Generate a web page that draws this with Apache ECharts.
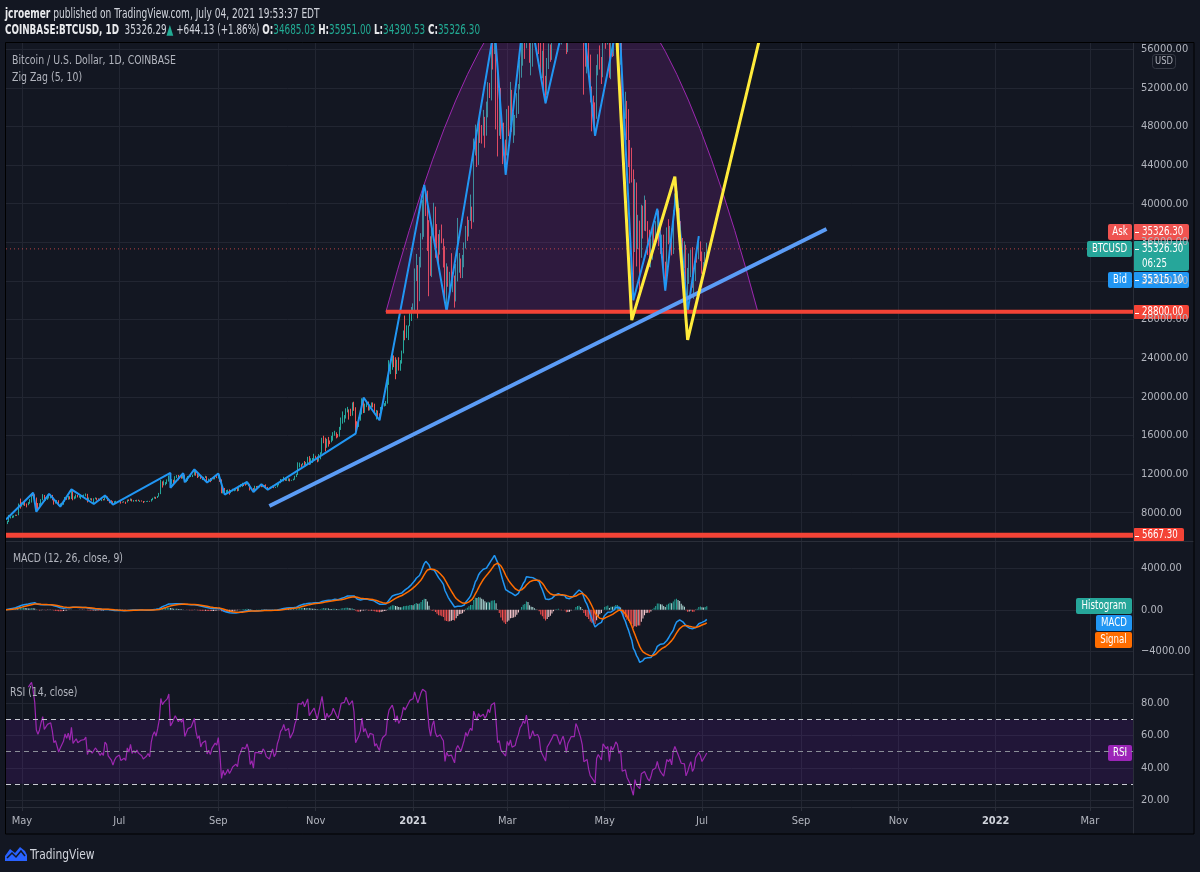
<!DOCTYPE html>
<html>
<head>
<meta charset="utf-8">
<title>BTCUSD 1D</title>
<script src="https://cdn.jsdelivr.net/npm/echarts@6.0.0/dist/echarts.min.js"></script>
<style>
  html, body { margin: 0; padding: 0; background: #131722; }
  #chart { width: 1200px; height: 872px; }
</style>
</head>
<body>
<div id="chart"></div>
<script>
// daily candles, 2020-04-21 .. 2021-07-04 (open = previous close)
const firstOpen = 6870;
const closes = [
  6840, 7130, 7490, 7500, 7540, 7700, 7780, 7760, 8780, 8620,
  8830, 8970, 8900, 8880, 9030, 9150, 9990, 9810, 9540, 8720, 8560, 8810, 9310, 9790, 9310, 9380, 9670, 9730, 9780, 9510, 9060, 9170, 9180, 8720, 8900, 8840, 9200, 9580, 9420, 9700, 9450,
  10200, 9520, 9660, 9790, 9620, 9670, 9750, 9780, 9780, 9890, 9270, 9470, 9470, 9340, 9430, 9520, 9460, 9380, 9290, 9360, 9290, 9680, 9620, 9290, 9250, 9160, 9000, 9120, 9190, 9140,
  9230, 9090, 9060, 9130, 9080, 9340, 9250, 9430, 9230, 9290, 9240, 9300, 9240, 9250, 9190, 9130, 9150, 9170, 9210, 9160, 9390, 9530, 9600, 9540, 9700, 9930, 11030, 10920, 11100, 11120, 11350,
  11810, 11070, 11230, 11190, 11740, 11770, 11600, 11760, 11680, 11890, 11390, 11580, 11780, 11770, 11860, 11910, 12290, 11960, 11750, 11870, 11520, 11670, 11650, 11760, 11340, 11470, 11320, 11530, 11480, 11710, 11650,
  11920, 11400, 10170, 10470, 10160, 10250, 10370, 10130, 10230, 10350, 10390, 10440, 10330, 10680, 10790, 10960, 10940, 10930, 11080, 10920, 10420, 10530, 10240, 10740, 10690, 10730, 10770, 10700, 10840, 10780,
  10620, 10570, 10550, 10670, 10790, 10600, 10670, 10920, 11060, 11300, 11380, 11550, 11430, 11430, 11500, 11320, 11370, 11500, 11750, 11920, 12820, 12980, 12930, 13130, 13030, 13070, 13650, 13280, 13460, 13560, 13800,
  13760, 13550, 14030, 14150, 15590, 15580, 14840, 15480, 15330, 15300, 15700, 16290, 16330, 16070, 15960, 16720, 17660, 17780, 17820, 18660, 18700, 18420, 18370, 19160, 18740, 17150, 17140, 17720, 18180, 19700,
  18790, 19220, 19450, 18650, 19150, 19370, 19170, 18320, 18550, 18250, 18040, 18800, 19170, 19270, 19440, 21380, 22840, 23120, 23850, 23480, 22740, 23820, 23250, 23730, 24710, 26490, 26280, 27080, 27380, 28880, 28990,
  29390, 32200, 33000, 31990, 33990, 36820, 39470, 40670, 40240, 38240, 35540, 34010, 37390, 39150, 36830, 36020, 35820, 36630, 36020, 35540, 30830, 33010, 32090, 32280, 32260, 32510, 30430, 33410, 34270, 34320, 33110,
  33520, 35510, 37670, 36960, 38290, 39260, 38880, 46450, 46480, 44830, 48010, 47440, 47300, 48690, 48000, 49160, 52150, 51600, 55920, 55890, 57410, 54090, 48890, 49680, 47060, 46290, 46120, 45140,
  49590, 48440, 50350, 48370, 48750, 48880, 50970, 52390, 54880, 55850, 57770, 57230, 61190, 59010, 55630, 56900, 58910, 57650, 58030, 58100, 57350, 54080, 54340, 52300, 51320, 55050, 55840, 55780, 57630, 58760, 58800,
  58730, 58970, 57060, 58210, 59130, 57990, 55950, 58090, 58090, 59770, 59980, 59860, 63580, 62960, 63160, 61330, 60010, 56150, 55660, 56470, 53800, 51700, 51150, 50110, 49070, 54020, 55030, 54840, 53570, 57750,
  57830, 56630, 57200, 53240, 57480, 56430, 57380, 58930, 58280, 55860, 56750, 49500, 49690, 49910, 46760, 46450, 43540, 42880, 36730, 40600, 37280, 37530, 34700, 38800, 38350, 39240, 38440, 35660, 34610, 35680, 37330,
  36690, 37580, 39190, 36870, 35520, 35800, 33580, 33400, 37390, 36690, 37340, 35550, 39020, 40530, 40160, 38350, 38090, 35820, 35480, 35600, 31680, 32510, 33690, 34680, 31590, 32280, 34700, 34500, 35900, 35040,
  33540, 33800, 34685.03, 35326.30
];
const highs = [
  6950, 7160, 7770, 7620, 7700, 7720, 7800, 7790, 8950, 9460,
  9070, 9020, 9190, 8950, 9100, 9400, 9990, 10070, 9910, 9570, 9000, 8980, 9400, 9920, 9840, 9580, 9870, 9950, 9890, 9840, 9560, 9270, 9310, 9290, 8970, 9020, 9230, 9620, 9610, 9740, 9700,
  10420, 10230, 9690, 9880, 9850, 9730, 9800, 9800, 9880, 9990, 9950, 9570, 9500, 9490, 9490, 9580, 9540, 9480, 9400, 9400, 9420, 9780, 9690, 9670, 9330, 9290, 9190, 9190, 9230, 9200,
  9310, 9260, 9130, 9190, 9140, 9360, 9370, 9470, 9440, 9310, 9300, 9340, 9350, 9270, 9270, 9210, 9190, 9200, 9230, 9220, 9420, 9540, 9660, 9640, 9730, 10050, 11400, 11240, 11340, 11170, 11450,
  11860, 12120, 11480, 11410, 11780, 11900, 11910, 11800, 11800, 12090, 11940, 11630, 11800, 11850, 12000, 11930, 12480, 12400, 12020, 11890, 11880, 11690, 11710, 11820, 11770, 11530, 11590, 11550, 11570, 11720, 11780,
  12060, 11940, 11450, 10590, 10560, 10340, 10390, 10410, 10350, 10480, 10410, 10480, 10590, 10790, 10950, 11100, 11050, 11040, 11180, 11080, 10990, 10570, 10550, 10790, 10760, 10780, 10800, 10950, 10860, 10850,
  10930, 10670, 10600, 10690, 10800, 10800, 10680, 10950, 11100, 11490, 11430, 11720, 11560, 11550, 11560, 11540, 11400, 11520, 11820, 12030, 13220, 13190, 13020, 13160, 13350, 13250, 13790, 13860, 13640, 13660, 14100,
  13900, 13820, 14070, 14250, 15760, 15970, 15770, 15650, 15850, 15480, 15960, 16340, 16480, 16330, 16140, 16890, 17860, 18490, 18110, 18810, 18960, 18700, 18770, 19420, 19490, 18920, 17470, 17880, 18330, 19850,
  19920, 19300, 19580, 19510, 19180, 19420, 19420, 19290, 18640, 18580, 18290, 18950, 19410, 19350, 19570, 21560, 23800, 23290, 24300, 24290, 24100, 23850, 24100, 23800, 24790, 26870, 28420, 27410, 27390, 28990, 29300,
  29680, 33300, 34800, 33650, 34500, 36950, 40380, 41950, 41400, 41350, 38300, 36630, 37800, 40100, 39700, 37900, 36850, 37300, 37850, 36400, 35600, 33830, 33500, 32950, 34880, 32930, 32560, 33760, 38530, 34890, 34330,
  34700, 35990, 37700, 38680, 38320, 40950, 39700, 46750, 48200, 47340, 48650, 48900, 48150, 49720, 49000, 50580, 52600, 52520, 56330, 57500, 58350, 57500, 54200, 51380, 52000, 48330, 48400, 46650,
  49800, 50150, 52620, 51800, 49450, 49200, 51450, 52400, 54900, 57400, 58100, 58000, 61780, 61700, 60600, 56950, 58980, 60100, 59450, 59900, 58600, 58430, 55850, 57200, 53250, 55100, 56600, 56500, 58400, 59400, 59800,
  59500, 60000, 59800, 58500, 59250, 59500, 58650, 58200, 58900, 61220, 60700, 61200, 63750, 64850, 63800, 63550, 62500, 60400, 57600, 57100, 56800, 55450, 52150, 51200, 50500, 54360, 55480, 56400, 55200, 57950,
  58450, 57950, 58950, 57200, 57900, 58360, 58650, 59500, 59300, 59600, 56900, 58000, 51350, 51600, 50650, 49800, 46600, 45800, 43550, 42550, 42200, 38850, 38250, 39900, 39800, 40850, 40400, 38200, 37300, 36400, 37500,
  37900, 38200, 39480, 39300, 37900, 36800, 36800, 34000, 37550, 38400, 37700, 37450, 39350, 41070, 41330, 40500, 39550, 38200, 36450, 36100, 35750, 33350, 34850, 35250, 35500, 32700, 34750, 35300, 36650, 36100,
  35050, 33950, 35000, 35951.00
];
const lows = [
  6760, 6820, 7030, 7400, 7440, 7490, 7660, 7670, 7730, 8420,
  8620, 8760, 8700, 8550, 8770, 8920, 9050, 9720, 9460, 8100, 8200, 8550, 8790, 9280, 9140, 9230, 9330, 9470, 9480, 9280, 8830, 8940, 9070, 8720, 8630, 8700, 8820, 9110, 9330, 9340, 9380,
  9420, 9280, 9390, 9470, 9580, 9550, 9400, 9640, 9570, 9700, 9060, 9240, 9330, 9250, 8900, 9390, 9270, 9280, 9230, 9200, 9270, 9280, 9580, 9220, 8980, 9030, 8830, 8940, 9050, 9080,
  9090, 8940, 9040, 9050, 8910, 9060, 9200, 9230, 9160, 9130, 9180, 9150, 9200, 9110, 9150, 9000, 9090, 9120, 9120, 9130, 9150, 9290, 9460, 9420, 9520, 9660, 9920, 10600, 10830, 10840, 10980,
  11220, 10580, 10930, 11000, 11080, 11580, 11350, 11520, 11520, 11530, 11150, 11160, 11290, 11690, 11690, 11690, 11850, 11830, 11590, 11680, 11500, 11380, 11530, 11590, 11120, 11260, 11160, 11280, 11450, 11450, 11580,
  11540, 11190, 10010, 9990, 9880, 10040, 9950, 9860, 10020, 10220, 10220, 10280, 10210, 10250, 10630, 10670, 10760, 10800, 10890, 10790, 10300, 10350, 10140, 10200, 10570, 10650, 10630, 10640, 10650, 10690,
  10470, 10380, 10500, 10540, 10640, 10540, 10560, 10630, 10830, 11050, 11280, 11240, 11300, 11290, 11270, 11240, 11300, 11340, 11410, 11690, 11900, 12690, 12740, 12890, 12900, 12800, 13060, 12950, 12990, 13150, 13430,
  13610, 13220, 13300, 13530, 14100, 15190, 14350, 14720, 14840, 15100, 15290, 15450, 15970, 15700, 15790, 15880, 16570, 17220, 17350, 17750, 18390, 17640, 18000, 18050, 18550, 16190, 16450, 16880, 17530, 18170,
  18320, 18340, 18930, 18570, 18600, 18930, 18900, 18200, 17650, 17920, 17570, 18020, 18710, 19000, 19060, 19300, 21240, 22350, 22800, 23070, 21820, 22360, 22720, 22700, 23440, 24500, 25860, 26100, 25880, 27320, 27850,
  28690, 28950, 32000, 28130, 29900, 33400, 36300, 36570, 38720, 35110, 30420, 32530, 32400, 36700, 34400, 35360, 33850, 34730, 35900, 33400, 30070, 28850, 31400, 30900, 31950, 30840, 29240, 29880, 31950, 32860, 32300,
  32300, 33420, 35370, 36150, 36600, 38220, 37400, 38080, 45000, 43800, 44020, 46300, 46230, 47050, 45800, 47050, 48950, 50950, 50700, 53900, 55500, 47700, 44900, 47040, 46700, 44100, 45000, 43000,
  45000, 47000, 48100, 47450, 46300, 47070, 48880, 49300, 51850, 53060, 54300, 55000, 56100, 58950, 54600, 53300, 54200, 57000, 56300, 57850, 55500, 53700, 53000, 51700, 50400, 51280, 53950, 54700, 54900, 57000, 56900,
  57900, 58450, 56900, 56500, 56800, 57300, 55500, 55700, 57670, 57900, 59250, 59400, 59800, 61000, 62000, 60000, 59700, 51300, 54200, 53500, 53600, 50500, 47500, 48750, 47050, 48800, 53300, 53900, 52400, 53100,
  57050, 56050, 56500, 53050, 52900, 55200, 55300, 56900, 56250, 53500, 54400, 48600, 46000, 48800, 46600, 43800, 42100, 42200, 30000, 35000, 33500, 35300, 31100, 34400, 36400, 37200, 37150, 34700, 33450, 33400, 34200,
  35700, 35900, 37200, 35600, 34800, 35300, 33400, 31000, 32400, 35800, 35950, 34650, 34800, 38800, 39500, 38100, 37400, 35150, 34850, 33350, 31300, 28800, 31700, 32400, 31300, 30150, 32000, 33900, 34250, 34050,
  32750, 32700, 33400, 34390.53
];

const tickDates = ['2020-05-01', '2020-07-01', '2020-09-01', '2020-11-01', '2021-01-01', '2021-03-01',
                   '2021-05-01', '2021-07-01', '2021-09-01', '2021-11-01', '2022-01-01', '2022-03-01'];
const tickLabels = ['May', 'Jul', 'Sep', 'Nov', '2021', 'Mar', 'May', 'Jul', 'Sep', 'Nov', '2022', 'Mar'];

// Zig Zag (5, 10) pivots
const zigzag = [
  ['2020-04-21', 7300], ['2020-05-08', 10070], ['2020-05-10', 8100], ['2020-05-18', 9950],
  ['2020-05-25', 8630], ['2020-06-01', 10420], ['2020-06-15', 8900], ['2020-06-22', 9780],
  ['2020-06-27', 8830], ['2020-08-02', 12120], ['2020-08-02', 10580], ['2020-08-10', 12090],
  ['2020-08-11', 11150], ['2020-08-17', 12480], ['2020-08-25', 11120], ['2020-09-01', 12060],
  ['2020-09-05', 9880], ['2020-09-19', 11180], ['2020-09-23', 10140], ['2020-09-28', 10950],
  ['2020-10-02', 10380], ['2020-11-26', 16190], ['2020-12-01', 19920], ['2020-12-11', 17570],
  ['2021-01-08', 41950], ['2021-01-22', 28850], ['2021-02-21', 58350], ['2021-02-28', 43000],
  ['2021-03-13', 61780], ['2021-03-25', 50400], ['2021-04-14', 64850], ['2021-04-25', 47050],
  ['2021-05-10', 59600], ['2021-05-19', 30000], ['2021-06-03', 39480], ['2021-06-08', 31000],
  ['2021-06-15', 41330], ['2021-06-22', 28800], ['2021-06-29', 36650]
];
const yellowW = [['2021-05-07', 62350], ['2021-05-18', 27950], ['2021-06-14', 42800], ['2021-06-22', 25900], ['2021-08-08', 58400]];
const trendLine = [['2020-10-03', 8700], ['2021-09-17', 37380]];
const supportLine = [['2020-12-15', 28800], ['2022-03-28', 28800]];
const bottomLine = [['2020-04-21', 5667.30], ['2022-03-28', 5667.30]];
const arcPoints = [['2020-12-15', 28800], ['2021-04-11', 100800], ['2021-08-05', 28800]];
const lastPrice = 35326.30;
const bidPrice = 35315.10;

const FONT = '"Liberation Sans Narrow", "DejaVu Sans Condensed", sans-serif';
const GRID = '#222632';
const SEP = '#2a2e39';
const TEXT = '#b2b5be';
const UP = '#26a69a', DOWN = '#ef5350';

const dates = [];
for (let t = Date.UTC(2020, 3, 21); t <= Date.UTC(2022, 2, 28); t += 86400000) {
  dates.push(new Date(t).toISOString().slice(0, 10));
}
const tickSet = new Set(tickDates);
const onTick = (i, v) => tickSet.has(v);

const candles = closes.map((c, i) => [i ? closes[i - 1] : firstOpen, c, lows[i], highs[i]]);

// indicators from the closes
function ema(src, n) {
  const k = 2 / (n + 1);
  let prev;
  return src.map((v, i) => (prev = i ? prev + k * (v - prev) : v));
}
const ema12 = ema(closes, 12), ema26 = ema(closes, 26);
const macd = ema12.map((v, i) => v - ema26[i]);
const signal = ema(macd, 9);
const hist = macd.map((v, i) => v - signal[i]);

const rsi = ['-'];
let ag = 0, al = 0;
for (let i = 1; i < closes.length; i++) {
  const ch = closes[i] - closes[i - 1];
  const g = Math.max(ch, 0), l = Math.max(-ch, 0);
  if (i <= 14) { ag += g / 14; al += l / 14; }
  else { ag = (ag * 13 + g) / 14; al = (al * 13 + l) / 14; }
  rsi.push(i >= 14 ? (al === 0 ? 100 : 100 - 100 / (1 + ag / al)) : '-');
}

function histColor(i) {
  const h = hist[i], p = i ? hist[i - 1] : 0;
  if (h >= 0) return h > p ? '#26a69a' : '#b2dfdb';
  return h < p ? '#ff5252' : '#ffcdd2';
}

const fmt = v => (v < 0 ? '\u2212' + Math.abs(v).toFixed(2) : v.toFixed(2));

const chart = echarts.init(document.getElementById('chart'));

const hiddenX = i => ({ gridIndex: i, type: 'category', data: dates, boundaryGap: false, show: false });
const priceY = (i, min, max, interval) => ({
  gridIndex: i, type: 'value', position: 'right', min, max, interval,
  axisLine: { show: false }, axisTick: { show: false },
  axisLabel: { showMinLabel: false, showMaxLabel: false, formatter: fmt, color: TEXT, fontSize: 11, fontFamily: FONT, margin: 8 },
  splitLine: { show: true, showMinLine: false, showMaxLine: false, lineStyle: { color: GRID, width: 1 } }
});
const plainLine = (data, color, width, extra) => Object.assign({
  type: 'line', data, xAxisIndex: 0, yAxisIndex: 0, symbol: 'none', silent: true, z: 4,
  lineStyle: { color, width }
}, extra || {});

const option = {
  animation: false,
  backgroundColor: '#131722',
  grid: [
    { left: 6, right: 67, top: 43, height: 508.3 },
    { left: 6, right: 67, top: 541, height: 151.8 },
    { left: 6, right: 67, top: 674, height: 158.2 },
    { left: 6, right: 67, top: 43, height: 764 }
  ],
  xAxis: [
    hiddenX(0), hiddenX(1), hiddenX(2),
    {
      gridIndex: 3, type: 'category', data: dates, boundaryGap: false,
      axisLine: { lineStyle: { color: SEP } },
      axisTick: { interval: onTick, length: 4, lineStyle: { color: SEP } },
      axisLabel: {
        interval: onTick, margin: 9, color: TEXT, fontSize: 11, fontFamily: FONT,
        formatter: v => {
          const s = tickLabels[tickDates.indexOf(v)];
          return /^\d+$/.test(s) ? '{y|' + s + '}' : s;
        },
        rich: { y: { fontWeight: 'bold', color: '#d1d4dc', fontSize: 11, fontFamily: FONT } }
      },
      splitLine: { show: true, interval: onTick, lineStyle: { color: GRID } }
    }
  ],
  yAxis: [
    priceY(0, 4000, 56650, 4000),
    priceY(1, -8000, 6630, 4000),
    priceY(2, 0, 98.2, 20),
    { gridIndex: 3, type: 'value', show: false, min: 0, max: 1 }
  ],
  series: [
    {
      type: 'candlestick', data: candles, xAxisIndex: 0, yAxisIndex: 0, z: 1, silent: true,
      itemStyle: { color: UP, color0: DOWN, borderColor: UP, borderColor0: DOWN, borderWidth: 1 }
    },
    {
      type: 'custom', xAxisIndex: 0, yAxisIndex: 0, z: 2, silent: true,
      data: [arcPoints[0]],
      renderItem: (params, api) => {
        const p = arcPoints.map(d => api.coord([dates.indexOf(d[0]), d[1]]));
        const cs = params.coordSys;
        return {
          type: 'bezierCurve',
          shape: { x1: p[0][0], y1: p[0][1], cpx1: p[1][0], cpy1: p[1][1], x2: p[2][0], y2: p[2][1] },
          style: { fill: 'rgba(156,39,176,0.2)', stroke: '#9c27b0', lineWidth: 1 },
          clipPath: { type: 'rect', shape: { x: cs.x, y: cs.y, width: cs.width, height: 498 } }
        };
      }
    },
    plainLine(zigzag, '#2196f3', 2, { z: 3 }),
    plainLine(bottomLine, '#f44336', 5),
    plainLine(supportLine, '#f44336', 4),
    plainLine([[dates[0], lastPrice], [dates[dates.length - 1], lastPrice]], 'rgba(239,83,80,0.75)', 1,
      { lineStyle: { color: 'rgba(239,83,80,0.75)', width: 1, type: [1, 3] }, z: 3 }),
    plainLine(trendLine, '#5b9cf6', 4, { z: 5 }),
    plainLine(yellowW, '#ffeb3b', 3, { z: 6 }),
    {
      type: 'bar', data: hist, xAxisIndex: 1, yAxisIndex: 1, barWidth: 1, silent: true,
      itemStyle: { color: p => histColor(p.dataIndex) }
    },
    { type: 'line', data: macd, xAxisIndex: 1, yAxisIndex: 1, symbol: 'none', silent: true, lineStyle: { color: '#2196f3', width: 1.5 } },
    { type: 'line', data: signal, xAxisIndex: 1, yAxisIndex: 1, symbol: 'none', silent: true, lineStyle: { color: '#ff6d00', width: 1.5 } },
    {
      type: 'line', data: rsi, xAxisIndex: 2, yAxisIndex: 2, symbol: 'none', silent: true,
      lineStyle: { color: '#9c27b0', width: 1.2 },
      markArea: { silent: true, itemStyle: { color: 'rgba(153,21,255,0.1)' }, data: [[{ yAxis: 30 }, { yAxis: 70 }]] },
      markLine: {
        silent: true, symbol: 'none', label: { show: false },
        lineStyle: { type: [5, 4], color: '#c9cbd3', width: 1 },
        data: [{ yAxis: 70 }, { yAxis: 50, lineStyle: { color: '#8b8e98' } }, { yAxis: 30 }]
      }
    }
  ]
};
chart.setOption(option);

// overlays: header, pane titles, price tags
const yP = (axis, v) => chart.convertToPixel({ yAxisIndex: axis }, v);

function txt(x, y, text, size, color, sx, rich, align) {
  return {
    type: 'text', z: 100, silent: true, x, y, scaleX: sx || 1,
    style: {
      text, x: 0, y: 0, fill: color, font: `${size}px ${FONT}`, rich,
      align: align || 'left', textAlign: align || 'left',
      textVerticalAlign: 'middle', verticalAlign: 'middle'
    }
  };
}
function tag(x, yc, w, h, fill, text, opts) {
  opts = opts || {};
  const top = Math.round(yc - h / 2);
  const lines = Array.isArray(text) ? text : [text];
  const kids = [{ type: 'rect', shape: { x, y: top, width: w, height: h, r: 2 }, style: { fill } }];
  lines.forEach((t, k) => {
    kids.push(txt(opts.left ? x + opts.left : x + w / 2, top + h / (2 * lines.length) * (2 * k + 1),
      t, 12, '#fff', 0.8, undefined, opts.left ? 'left' : 'center'));
  });
  if (opts.dash) kids.push({ type: 'rect', shape: { x: x + 2, y: top + 8, width: 4, height: 1 }, style: { fill: '#fff' } });
  return { type: 'group', z: 100, silent: true, children: kids };
}

const lastY = yP(0, lastPrice);
const zeroY = yP(1, 0);
const lastRsi = rsi[rsi.length - 1];
const bold = { fontWeight: 'bold', fill: '#e8e9ec', fontSize: 14, fontFamily: FONT };
const teal = { fill: '#22ab94', fontSize: 14, fontFamily: FONT };

const graphics = [
  // cover above the price pane, frame and separators
  { type: 'rect', z: 80, silent: true, shape: { x: 0, y: 0, width: 1200, height: 42.5 }, style: { fill: '#131722' } },
  { type: 'line', z: 90, shape: { x1: 6, y1: 541.5, x2: 1194, y2: 541.5 }, style: { stroke: SEP, lineWidth: 1 } },
  { type: 'line', z: 90, shape: { x1: 6, y1: 674.5, x2: 1194, y2: 674.5 }, style: { stroke: SEP, lineWidth: 1 } },
  { type: 'line', z: 90, shape: { x1: 1133.5, y1: 43, x2: 1133.5, y2: 834 }, style: { stroke: SEP, lineWidth: 1 } },
  { type: 'rect', z: 95, shape: { x: 5.5, y: 42.5, width: 1188.5, height: 791.5 }, style: { fill: null, stroke: '#000', lineWidth: 1 } },

  txt(5, 14, '{b|jcroemer} published on TradingView.com, July 04, 2021 19:53:37 EDT', 14, '#d1d4dc', 0.718, { b: bold }),
  txt(5, 30, '{b|COINBASE:BTCUSD, 1D}  35326.29{g|\u25B2} +644.13 (+1.86%) {b|O:}{g|34685.03} {b|H:}{g|35951.00} {b|L:}{g|34390.53} {b|C:}{g|35326.30}',
    14, '#d1d4dc', 0.70, { b: bold, g: teal }),
  txt(12, 61, 'Bitcoin / U.S. Dollar, 1D, COINBASE', 13, TEXT, 0.8),
  txt(12, 78, 'Zig Zag (5, 10)', 13, TEXT, 0.8),
  txt(13, 559, 'MACD (12, 26, close, 9)', 13, TEXT, 0.8),
  txt(10, 692.5, 'RSI (14, close)', 13, TEXT, 0.8),

  // USD badge
  { type: 'rect', z: 100, shape: { x: 1152.5, y: 54.5, width: 23, height: 14, r: 3 }, style: { fill: '#131722', stroke: '#363a45', lineWidth: 1 } },
  txt(1164, 61.5, 'USD', 11, TEXT, 0.85, undefined, 'center'),

  // price tags
  tag(1108, lastY - 17, 24, 16, DOWN, 'Ask'),
  tag(1133, lastY - 17, 56, 16, DOWN, lastPrice.toFixed(2), { left: 9, dash: true }),
  tag(1087, lastY, 45, 16, UP, 'BTCUSD'),
  tag(1133, lastY + 7, 56, 30, UP, [lastPrice.toFixed(2), '06:25'], { left: 9, dash: true }),
  tag(1108, lastY + 31.5, 24, 16, '#2196f3', 'Bid'),
  tag(1133, lastY + 31.5, 56, 16, '#2196f3', bidPrice.toFixed(2), { left: 9, dash: true }),
  tag(1133, yP(0, 28800), 56, 14, '#f44336', '28800.00', { left: 9, dash: true }),
  tag(1133, yP(0, 5667.30), 51, 14, '#f44336', '5667.30', { left: 9, dash: true }),

  tag(1076, zeroY - 3.7, 56, 16, UP, 'Histogram'),
  tag(1096, zeroY + 13.3, 36, 16, '#2196f3', 'MACD'),
  tag(1095, zeroY + 30.5, 37, 16, '#ff6d00', 'Signal'),
  tag(1108, yP(2, lastRsi), 24, 16, '#9c27b0', 'RSI'),

  // footer logo
  { type: 'polygon', z: 100, shape: { points: [[5, 861], [5, 856], [10, 849], [15, 853], [20, 847], [25, 851], [27, 855], [27, 861]] }, style: { fill: '#2962ff' } },
  { type: 'polyline', z: 101, shape: { points: [[7, 858], [12, 853], [16, 857], [21, 851], [25, 856]] }, style: { stroke: '#131722', lineWidth: 1.5, fill: null } },
  txt(30, 855, 'TradingView', 14, '#d1d4dc', 0.85)
];
chart.setOption({ graphic: graphics });
</script>
</body>
</html>
